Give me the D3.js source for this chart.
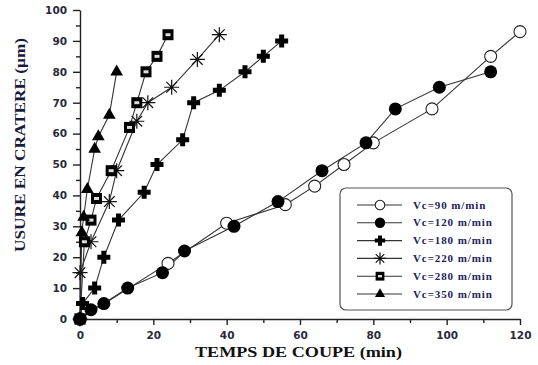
<!DOCTYPE html>
<html>
<head>
<meta charset="utf-8">
<script src="https://cdn.jsdelivr.net/npm/d3@7"></script>
<style>
  body { margin: 0; background: #fff; }
</style>
</head>
<body>
<div id="canvas"></div>
<script>
"use strict"

/* Canvas size */
let svgWidth = 538;
let svgHeight = 365;

/* Data: [time (min), wear (µm)] */
let vc90 = [[0, 0], [24, 18], [40, 31], [56, 37], [64, 43], [72, 50], [80, 57], [96, 68], [112, 85], [120, 93]];
let vc120 = [[0, 0], [3, 3], [6.5, 5], [13, 10], [22.5, 15], [28.5, 22], [42, 30], [54, 38], [66, 48], [78, 57], [86, 68], [98, 75], [112, 80]];
let vc180 = [[0, 0], [0.7, 5], [4, 10], [6.5, 20], [10.5, 32], [17.5, 41], [21, 50], [28, 58], [31, 70], [38, 74], [45, 80], [50, 85], [55, 90]];
let vc220 = [[0, 0], [0, 15], [3, 25], [8, 38], [10, 48], [15.5, 64], [18.5, 70], [25, 75], [32, 84], [38, 92]];
let vc280 = [[0, 0], [1.2, 25], [3, 32], [4.5, 39], [8.5, 48], [13.5, 62], [15.5, 70], [18, 80], [21, 85], [24, 92]];
let vc350 = [[0, 0], [0.5, 28], [1, 33], [2, 42], [4, 55], [5, 59], [8, 66], [10, 80]];

let seriesNames = ["Vc=90 m/min", "Vc=120 m/min", "Vc=180 m/min", "Vc=220 m/min", "Vc=280 m/min", "Vc=350 m/min"];
let seriesMarkers = ["openCircle", "circle", "plus", "asterisk", "square", "triangle"];
let seriesData = [vc90, vc120, vc180, vc220, vc280, vc350];

let xTicks = [0, 20, 40, 60, 80, 100, 120];
let yTicks = [0, 10, 20, 30, 40, 50, 60, 70, 80, 90, 100];

let svg = d3.select("#canvas")
    .append("svg")
    .attr("width", svgWidth)
    .attr("height", svgHeight);

let xScale = d3.scaleLinear()
    .domain([0, 120])
    .range([80, 520]);

let yScale = d3.scaleLinear()
    .domain([0, 100])
    .range([319, 10]);

/* Axes */
let tickFont = "'DejaVu Sans', sans-serif";
let titleFont = "'Liberation Serif', 'Times New Roman', serif";

svg.append("g")
    .attr("transform", "translate(0," + yScale(0) + ")")
    .call(d3.axisBottom(xScale).tickValues(xTicks).tickSize(6).tickPadding(7).tickSizeOuter(0));

svg.append("g")
    .attr("transform", "translate(0," + yScale(0) + ")")
    .call(d3.axisBottom(xScale).tickValues([10, 30, 50, 70, 90, 110]).tickSize(4).tickFormat("").tickSizeOuter(0))
    .select(".domain").remove();

svg.append("g")
    .attr("transform", "translate(" + xScale(0) + ",0)")
    .call(d3.axisLeft(yScale).tickValues(yTicks).tickSize(7).tickPadding(6).tickSizeOuter(0));

svg.append("g")
    .attr("transform", "translate(" + xScale(0) + ",0)")
    .call(d3.axisLeft(yScale).tickValues([5, 15, 25, 35, 45, 55, 65, 75, 85, 95]).tickSize(4).tickFormat("").tickSizeOuter(0))
    .select(".domain").remove();

svg.selectAll(".domain, .tick line")
    .attr("stroke", "#222")
    .attr("stroke-width", 1.4);

svg.selectAll(".tick text")
    .attr("font-family", tickFont)
    .attr("font-weight", "bold")
    .attr("font-size", 10.5)
    .attr("fill", "#2a2a3a");

/* Axis titles */
svg.append("text")
    .attr("x", 195)
    .attr("y", 357)
    .attr("textLength", 207)
    .attr("lengthAdjust", "spacingAndGlyphs")
    .attr("font-family", titleFont)
    .attr("font-weight", "bold")
    .attr("font-size", 15)
    .attr("fill", "#111")
    .text("TEMPS DE COUPE (min)");

svg.append("text")
    .attr("transform", "translate(25,252) rotate(-90)")
    .attr("textLength", 214)
    .attr("lengthAdjust", "spacingAndGlyphs")
    .attr("font-family", titleFont)
    .attr("font-weight", "bold")
    .attr("font-size", 15)
    .attr("fill", "#1a1a3a")
    .text("USURE EN CRATERE (µm)");

/* Marker drawing */
function drawMarker(g, type, k) {
    if (type === "openCircle") {
        g.append("circle").attr("r", 6 * k).attr("fill", "#fff").attr("stroke", "#222").attr("stroke-width", 1.1);
    } else if (type === "circle") {
        g.append("circle").attr("r", 6.5 * k).attr("fill", "#000");
    } else if (type === "plus") {
        g.append("path")
            .attr("d", "M-2.5,-6.5H2.5V-2.5H6.5V2.5H2.5V6.5H-2.5V2.5H-6.5V-2.5H-2.5Z")
            .attr("transform", "scale(" + k + ")")
            .attr("fill", "#000");
    } else if (type === "asterisk") {
        let s = 7.5 * k, d = s * 0.707;
        g.append("path")
            .attr("d", "M" + (-s) + ",0H" + s + "M0," + (-s) + "V" + s +
                "M" + (-d) + "," + (-d) + "L" + d + "," + d + "M" + (-d) + "," + d + "L" + d + "," + (-d))
            .attr("stroke", "#111")
            .attr("stroke-width", 1.2)
            .attr("fill", "none");
    } else if (type === "square") {
        g.append("rect").attr("x", -5.5 * k).attr("y", -5.5 * k).attr("width", 11 * k).attr("height", 11 * k).attr("fill", "#000");
        g.append("rect").attr("x", -2.5 * k).attr("y", -1.5 * k).attr("width", 5 * k).attr("height", 3 * k).attr("fill", "#ddd");
    } else if (type === "triangle") {
        g.append("path")
            .attr("d", d3.symbol().type(d3.symbolTriangle).size(70 * k * k)())
            .attr("fill", "#000");
    }
}

/* Lines and markers */
let line = d3.line()
    .x(function (d) { return xScale(d[0]); })
    .y(function (d) { return yScale(d[1]); });

seriesData.forEach(function (data) {
    svg.append("path")
        .datum(data)
        .attr("d", line)
        .attr("fill", "none")
        .attr("stroke", "#333")
        .attr("stroke-width", 1.1);
});

seriesData.forEach(function (data, i) {
    svg.selectAll(".m" + i)
        .data(data)
        .join("g")
        .attr("class", "m" + i)
        .attr("transform", function (d) { return "translate(" + xScale(d[0]) + "," + yScale(d[1]) + ")"; })
        .each(function () { drawMarker(d3.select(this), seriesMarkers[i], 1); });
});

/* Legend */
let legend = svg.append("g");
legend.append("rect")
    .attr("x", 340)
    .attr("y", 188)
    .attr("width", 172)
    .attr("height", 122)
    .attr("rx", 6)
    .attr("fill", "#fff")
    .attr("stroke", "#555")
    .attr("stroke-width", 1.2);

seriesNames.forEach(function (name, i) {
    let y = 205 + i * 17.8;
    legend.append("line")
        .attr("x1", 357).attr("x2", 402)
        .attr("y1", y).attr("y2", y)
        .attr("stroke", "#333")
        .attr("stroke-width", 1.1);
    let g = legend.append("g").attr("transform", "translate(380," + y + ")");
    drawMarker(g, seriesMarkers[i], 0.8);
    legend.append("text")
        .attr("x", 413)
        .attr("y", y + 3.5)
        .attr("font-family", titleFont)
        .attr("font-weight", "bold")
        .attr("font-size", 11)
        .attr("letter-spacing", 0.9)
        .attr("fill", "#22225a")
        .text(name);
});
</script>
</body>
</html>
